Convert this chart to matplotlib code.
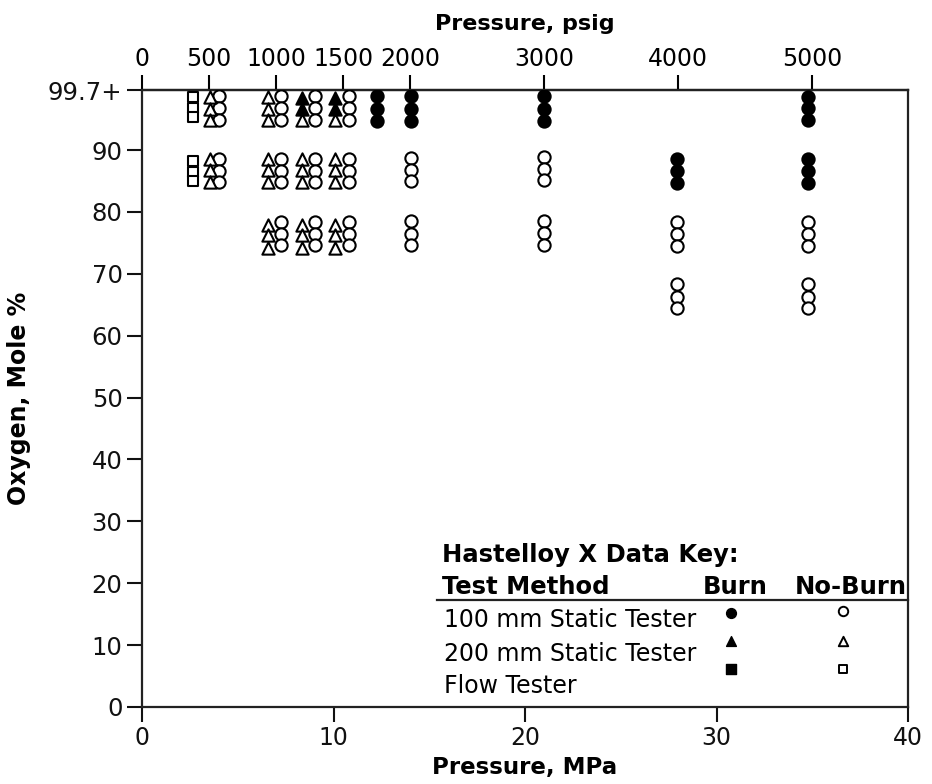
import matplotlib
matplotlib.use("Agg")
import matplotlib.pyplot as plt
from matplotlib import font_manager

# --- data (x in MPa, y in mole % oxygen) ---
# 100 mm static tester, burn (filled circles)
burn_circle_x = [12.27, 12.27, 12.27, 14.05, 14.05, 14.05, 20.99, 20.99, 20.99,
                 27.94, 27.94, 27.94, 34.78, 34.78, 34.78, 34.78, 34.78, 34.78]
burn_circle_y = [98.7, 96.7, 94.7, 98.7, 96.7, 94.7, 98.7, 96.7, 94.7,
                 88.6, 86.6, 84.6, 98.6, 96.8, 94.8, 88.6, 86.6, 84.6]

# 100 mm static tester, no-burn (open circles)
noburn_circle_x = ([4.02] * 6 + [7.26] * 9 + [9.03] * 9 + [10.81] * 9
                   + [14.05] * 6 + [20.99] * 6 + [27.94] * 6 + [34.78] * 6)
noburn_circle_y = ([98.7, 96.8, 94.9, 88.6, 86.6, 84.9]
                   + [98.7, 96.8, 94.9, 88.6, 86.6, 84.9, 78.3, 76.5, 74.6]
                   + [98.7, 96.8, 94.9, 88.6, 86.6, 84.9, 78.3, 76.5, 74.6]
                   + [98.7, 96.8, 94.9, 88.6, 86.6, 84.9, 78.3, 76.5, 74.6]
                   + [88.7, 86.8, 85.0, 78.5, 76.5, 74.6]
                   + [88.9, 87.0, 85.2, 78.5, 76.6, 74.6]
                   + [78.4, 76.4, 74.5, 68.3, 66.3, 64.4]
                   + [78.4, 76.4, 74.5, 68.3, 66.3, 64.4])

# 200 mm static tester, burn (filled triangles)
burn_tri_x = [8.36, 8.36, 10.08, 10.08]
burn_tri_y = [98.4, 96.6, 98.4, 96.6]

# 200 mm static tester, no-burn (open triangles)
noburn_tri_x = [3.55] * 6 + [6.58] * 9 + [8.36] * 7 + [10.08] * 7
noburn_tri_y = ([98.5, 96.7, 94.8, 88.5, 86.7, 84.8]
                + [98.5, 96.7, 94.8, 88.5, 86.7, 84.8, 77.9, 76.2, 74.2]
                + [94.8, 88.5, 86.7, 84.8, 77.9, 76.2, 74.2]
                + [94.8, 88.5, 86.7, 84.8, 77.9, 76.2, 74.2])

# flow tester, no-burn (open squares)
noburn_sq_x = [2.66] * 6
noburn_sq_y = [98.6, 96.8, 95.3, 88.2, 86.5, 85.0]

y_ticks = [0, 10, 20, 30, 40, 50, 60, 70, 80, 90, 99.7]
y_ticklabels = ["0", "10", "20", "30", "40", "50", "60", "70", "80", "90", "99.7+"]
psig_ticks = [0, 500, 1000, 1500, 2000, 3000, 4000, 5000]
MPA_PER_PSIG = 0.0070

legend_rows = ["100 mm Static Tester", "200 mm Static Tester", "Flow Tester"]

# condensed face for the pressure axes, if one is installed
names = {f.name for f in font_manager.fontManager.ttflist}
cond = "DejaVu Sans"
for cand in ["DejaVu Sans Condensed", "Liberation Sans Narrow"]:
    if cand in names:
        cond = cand
        break

plt.rcParams["font.family"] = "DejaVu Sans"

fig = plt.figure(figsize=(9.32, 7.84), dpi=100)
ax = fig.add_axes([142 / 932, 1 - 707 / 784, 766 / 932, 617 / 784])

ms = 78
lw = 1.5
ax.scatter(noburn_circle_x, noburn_circle_y, s=ms, marker="o", facecolors="white",
           edgecolors="black", linewidths=lw, zorder=3)
ax.scatter(noburn_tri_x, noburn_tri_y, s=ms, marker="^", facecolors="white",
           edgecolors="black", linewidths=lw, zorder=3)
ax.scatter(noburn_sq_x, noburn_sq_y, s=58, marker="s", facecolors="white",
           edgecolors="black", linewidths=lw, zorder=3)
ax.scatter(burn_circle_x, burn_circle_y, s=ms, marker="o", facecolors="black",
           edgecolors="black", linewidths=lw, zorder=4)
ax.scatter(burn_tri_x, burn_tri_y, s=ms, marker="^", facecolors="black",
           edgecolors="black", linewidths=lw, zorder=4)

ax.set_xlim(0, 40)
ax.set_ylim(0, 99.7)
ax.set_xticks([0, 10, 20, 30, 40])
ax.set_yticks(y_ticks)
ax.set_yticklabels(y_ticklabels)
for lab in ax.get_xticklabels():
    lab.set_family(cond)
ax.tick_params(axis="both", direction="out", length=11, width=1.5, labelsize=17.5,
               pad=3, colors="#111111")
ax.tick_params(axis="x", labelsize=17)
for sp in ax.spines.values():
    sp.set_linewidth(1.6)
    sp.set_color("#222222")

ax.set_xlabel("Pressure, MPa", fontsize=16.5, fontweight="bold", family=cond, labelpad=4)
ax.set_ylabel("Oxygen, Mole %", fontsize=17, fontweight="bold", labelpad=12)

top = ax.secondary_xaxis("top", functions=(lambda m: m / MPA_PER_PSIG,
                                           lambda p: p * MPA_PER_PSIG))
top.set_xticks(psig_ticks)
top.tick_params(direction="out", length=11, width=1.5, labelsize=17, pad=3)
for lab in top.get_xticklabels():
    lab.set_family(cond)
top.spines["top"].set_linewidth(1.6)
top.set_xlabel("Pressure, psig", fontsize=16, fontweight="bold", family=cond, labelpad=12)

# data key drawn inside the plot area
tr = ax.transAxes
ax.text(0.392, 0.246, "Hastelloy X Data Key:", transform=tr, fontsize=17.5,
        fontweight="bold", va="center", ha="left")
ax.text(0.392, 0.194, "Test Method", transform=tr, fontsize=17.5,
        fontweight="bold", va="center", ha="left")
ax.text(0.775, 0.194, "Burn", transform=tr, fontsize=17.5,
        fontweight="bold", va="center", ha="center")
ax.text(0.925, 0.194, "No-Burn", transform=tr, fontsize=17.5,
        fontweight="bold", va="center", ha="center")
ax.plot([0.385, 1.0], [0.173, 0.173], transform=tr, color="#222222", lw=1.6,
        clip_on=False)
row_y = [0.141, 0.086, 0.034]
for label, yy in zip(legend_rows, row_y):
    ax.text(0.394, yy, label, transform=tr, fontsize=17, va="center", ha="left")

key_markers = ["o", "^", "s"]
key_y = [0.152, 0.107, 0.062]
for mk, yy in zip(key_markers, key_y):
    ax.scatter([0.769], [yy], s=50 if mk != "s" else 42, marker=mk, color="black",
               transform=tr, zorder=5)
    ax.scatter([0.915], [yy + (0.004 if mk == "o" else 0)], s=46 if mk != "s" else 36,
               marker=mk, facecolors="white", edgecolors="black", linewidths=1.4,
               transform=tr, zorder=5)

fig.savefig("out.png", dpi=100)
